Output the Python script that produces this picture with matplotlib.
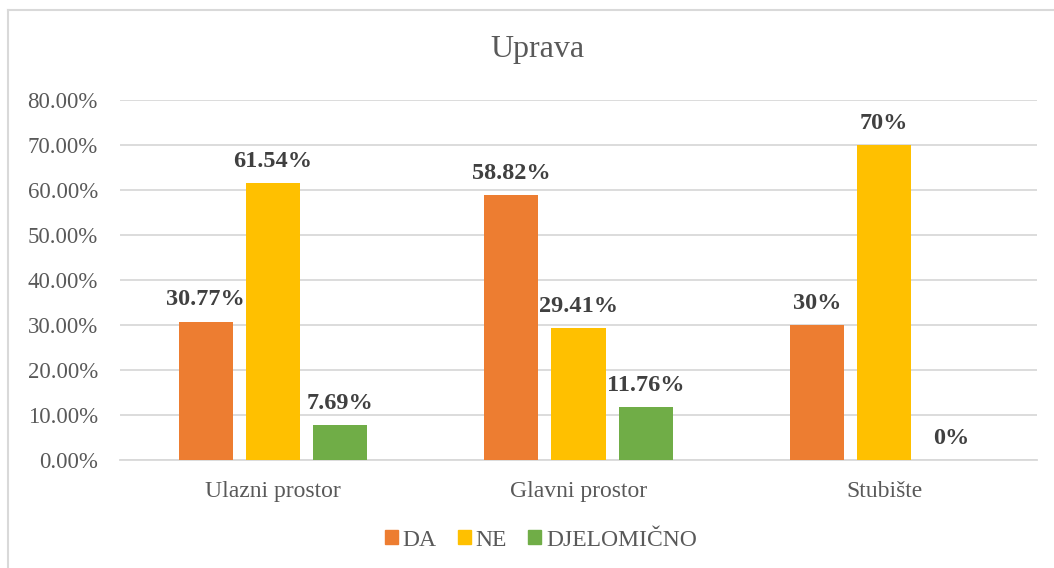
import numpy as np
import matplotlib.pyplot as plt
from matplotlib.lines import Line2D
from matplotlib.patches import Patch

categories = ["Ulazni prostor", "Glavni prostor", "Stubište"]
series = ["DA", "NE", "DJELOMIČNO"]
da = [30.77, 58.82, 30.0]
ne = [61.54, 29.41, 70.0]
djelomicno = [7.69, 11.76, 0.0]
labels_da = ["30.77%", "58.82%", "30%"]
labels_ne = ["61.54%", "29.41%", "70%"]
labels_dj = ["7.69%", "11.76%", "0%"]
yticks = [0, 10, 20, 30, 40, 50, 60, 70, 80]

colors = ["#ED7D31", "#FFC000", "#70AD47"]
txt = "#595959"
plt.rcParams['font.family'] = ['Liberation Serif', 'DejaVu Serif']

W, H = 1054, 568
fig = plt.figure(figsize=(W / 100, H / 100), dpi=100)
ax = fig.add_axes([120 / W, 1 - 460 / H, (1037 - 120) / W, 360 / H])

x = np.arange(len(categories))
width = 0.177
step = 0.22
for i, (vals, labs) in enumerate(zip([da, ne, djelomicno], [labels_da, labels_ne, labels_dj])):
    pos = x + (i - 1) * step
    ax.bar(pos, vals, width, color=colors[i], zorder=3)
    for p, v, l in zip(pos, vals, labs):
        ax.annotate(l, (p, v), xytext=(0, 8), textcoords="offset points",
                    ha="center", va="bottom", fontsize=17.5, fontweight="bold",
                    color="#404040")

ax.set_xlim(-0.5, 2.5)
ax.set_ylim(0, 80)
ax.set_yticks(yticks)
ax.set_yticklabels([f"{t:.2f}%" for t in yticks])
ax.set_xticks(x)
ax.set_xticklabels(categories)
ax.yaxis.grid(True, color="#D9D9D9", linewidth=1.3, zorder=0)
ax.set_axisbelow(True)
for s in ["top", "right", "left"]:
    ax.spines[s].set_visible(False)
ax.spines["bottom"].set_color("#D9D9D9")
ax.spines["bottom"].set_linewidth(1.3)
ax.tick_params(axis="y", length=0, labelsize=16.5, colors=txt, pad=16)
ax.tick_params(axis="x", length=0, labelsize=17, colors=txt, pad=15)

fig.text(537 / W, 1 - 50 / H, "Uprava", ha="center", va="center",
         fontsize=23, color=txt)

handles = [Patch(color=c) for c in colors]
fig.legend(handles, series, loc="center", bbox_to_anchor=(541 / W, 1 - 540 / H),
           ncol=3, frameon=False, fontsize=17, labelcolor=txt,
           handlelength=0.55, handleheight=0.55, handletextpad=0.2,
           columnspacing=0.9)

# chart area border (only left and top edges fall inside the image)
fig.add_artist(Line2D([7.5 / W, 7.5 / W], [0, 1 - 9.5 / H], transform=fig.transFigure,
                      color="#D9D9D9", linewidth=1.5))
fig.add_artist(Line2D([7.5 / W, 1], [1 - 9.5 / H, 1 - 9.5 / H], transform=fig.transFigure,
                      color="#D9D9D9", linewidth=1.5))

fig.savefig("out.png", dpi=100)
